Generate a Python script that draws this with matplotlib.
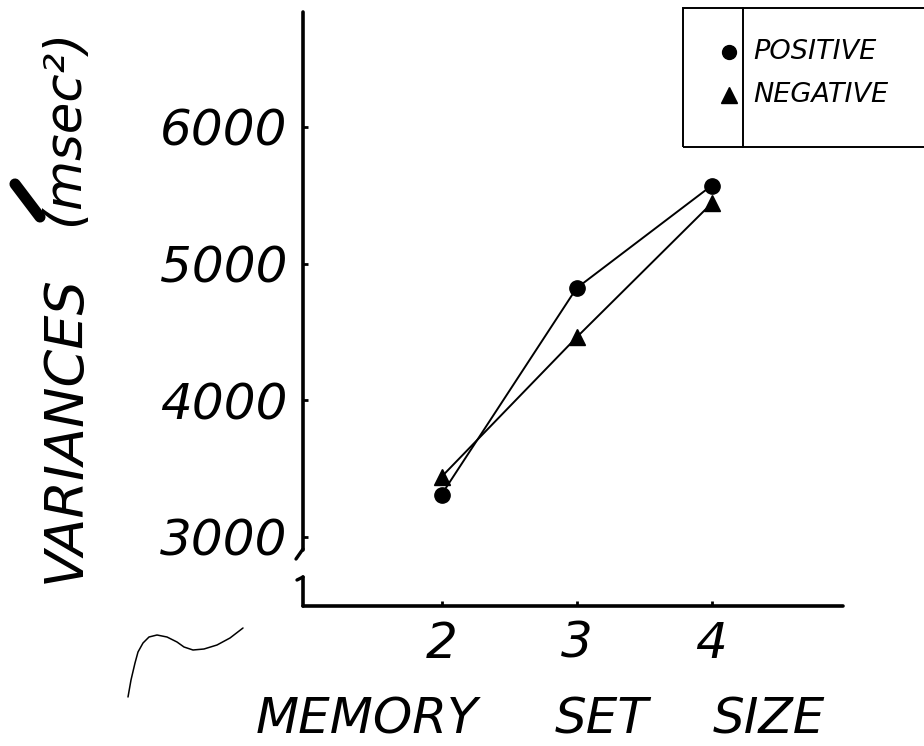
import matplotlib
matplotlib.use("Agg")
import matplotlib.pyplot as plt
from matplotlib.lines import Line2D
from matplotlib.patches import Rectangle

# ---- data ----
set_sizes = [2, 3, 4]
positive = [3310, 4820, 5570]
negative = [3440, 4460, 5440]
y_ticks = [3000, 4000, 5000, 6000]
y_tick_labels = ["3000", "4000", "5000", "6000"]
x_tick_labels = ["2", "3", "4"]
series_names = ["POSITIVE", "NEGATIVE"]
xlabel_words = ["MEMORY", "SET", "SIZE"]
ylabel_parts = ["VARIANCES", "(msec²)"]

W, H = 924, 746
plt.rcParams['font.family'] = ['DejaVu Sans']
fig = plt.figure(figsize=(W / 100, H / 100), dpi=100)


def fx(px):
    return px / W


def fy(py):
    return 1 - py / H


ax = fig.add_axes([fx(303), fy(606), fx(843) - fx(303), fy(12) - fy(606)])
ax.set_xlim(0.974, 4.974)
ax.set_ylim(2495, 6841)

ax.plot(set_sizes, positive, color='black', lw=1.4, marker='o', ms=11,
        clip_on=False, zorder=3)
ax.plot(set_sizes, negative, color='black', lw=1.4, marker='^', ms=12,
        clip_on=False, zorder=3)

for s in ['top', 'right']:
    ax.spines[s].set_visible(False)
ax.spines['left'].set_linewidth(2.6)
ax.spines['bottom'].set_linewidth(2.6)
ax.spines['left'].set_capstyle('round')
ax.spines['bottom'].set_capstyle('round')
ax.spines['left'].set_bounds(2905, 6841)

ax.set_xticks(set_sizes)
ax.set_xticklabels(x_tick_labels)
ax.set_yticks(y_ticks)
ax.set_yticklabels(y_tick_labels)
ax.tick_params(axis='both', direction='in', length=3.5, width=2,
               labelsize=36, color='black')
ax.tick_params(axis='y', pad=11)
ax.tick_params(axis='x', pad=10)
for lab in ax.get_xticklabels() + ax.get_yticklabels():
    lab.set_fontstyle('oblique')


# y-axis break decorations and lower stub
def fline(xs, ys, lw=2.6, **kw):
    fig.add_artist(Line2D([fx(v) for v in xs], [fy(v) for v in ys],
                          color='black', lw=lw, solid_capstyle='round',
                          transform=fig.transFigure, **kw))


fline([303, 296], [549, 559], lw=2.4)
fline([303, 303], [606, 577])
fline([303, 297], [577, 580], lw=2.4)

# axis titles
fig.text(fx(80), fy(429), ylabel_parts[0], rotation=90, rotation_mode='anchor',
         ha='center', va='baseline', fontsize=39, fontstyle='oblique')
fig.text(fx(78), fy(127), ylabel_parts[1], rotation=90, rotation_mode='anchor',
         ha='center', va='baseline', fontsize=37, fontstyle='oblique')
for word, cx in zip(xlabel_words, [367, 602, 769]):
    fig.text(fx(cx), fy(744), word, ha='center', va='bottom', fontsize=36,
             fontstyle='oblique')

# scan blot and squiggle
fline([15, 40], [184, 217], lw=8)
sq_x = [243, 230, 217, 204, 193, 184, 177, 167, 157, 149, 143, 138, 135, 131, 128]
sq_y = [628, 638, 645, 649, 650, 647, 642, 637, 635, 637, 643, 652, 663, 680, 697]
fline(sq_x, sq_y, lw=1.1)

# legend box
fig.add_artist(Rectangle((fx(683), fy(147)), fx(940) - fx(683), fy(8) - fy(147),
                         transform=fig.transFigure, fill=False, lw=1.4,
                         edgecolor='black'))
fline([743, 743], [8, 147], lw=1.4)
fig.add_artist(Line2D([fx(729)], [fy(52)], marker='o', ms=10, color='black',
                      transform=fig.transFigure))
fig.add_artist(Line2D([fx(729)], [fy(95)], marker='^', ms=11, color='black',
                      transform=fig.transFigure))
fig.text(fx(753), fy(52), series_names[0], ha='left', va='center',
         fontsize=19.5, fontstyle='oblique')
fig.text(fx(753), fy(95), series_names[1], ha='left', va='center',
         fontsize=19.5, fontstyle='oblique')

fig.savefig("out.png", dpi=100)
